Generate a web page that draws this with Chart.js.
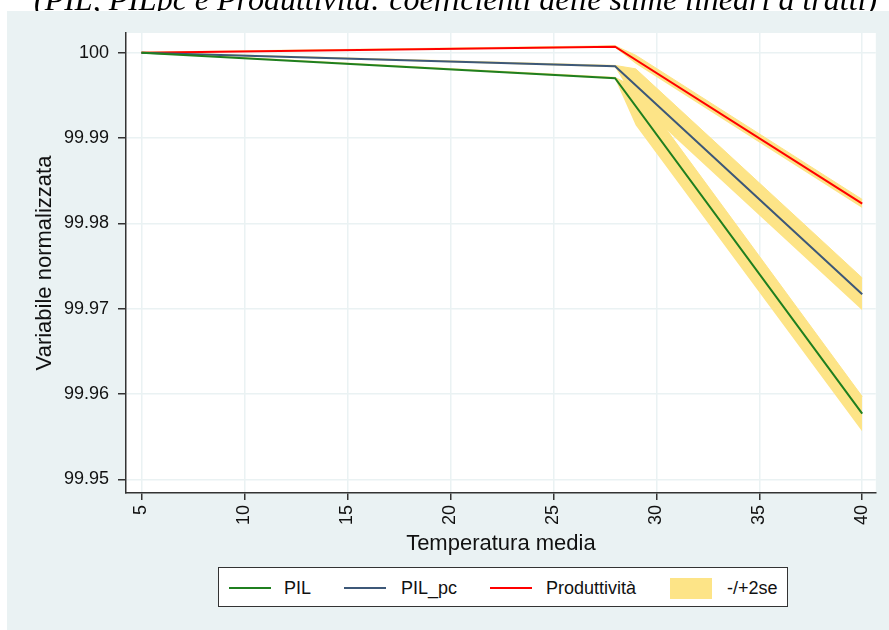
<!DOCTYPE html>
<html lang="it">
<head>
<meta charset="utf-8">
<title>Variabile normalizzata</title>
<script src="https://cdn.jsdelivr.net/npm/chart.js@4.4.1/dist/chart.umd.min.js"></script>
<style>
  html, body { margin: 0; padding: 0; background: #fff; }
  #wrap { position: relative; width: 889px; height: 630px; overflow: hidden; }
  #chart { position: absolute; left: 0; top: 0; }
  #title { position: absolute; left: 0; top: 0; width: 889px; height: 11px; overflow: hidden; z-index: 2; }
  #title span { position: absolute; left: 34px; top: -19px; line-height: 32px; font: italic 32px "Liberation Serif", serif; white-space: nowrap; color: #000; }
  #legend { position: absolute; left: 218px; top: 567px; width: 568px; height: 38px; background: #fff; border: 1px solid #333; z-index: 2;
            font: 18px "Liberation Sans", Arial, sans-serif; color: #111; }
  #legend .ln { position: absolute; top: 19px; width: 42px; height: 2px; }
  #legend .box { position: absolute; top: 10px; width: 42px; height: 21px; background: rgb(253, 228, 135); }
  #legend .lbl { position: absolute; top: 0; line-height: 40px; white-space: nowrap; }
</style>
</head>
<body>
<div id="wrap">
  <canvas id="chart" width="889" height="630"></canvas>
  <div id="title"><span>(PIL, PILpc e Produttività: coefficienti delle stime lineari a tratti)</span></div>
  <div id="legend">
    <span class="ln" style="left:10px; background:#1f7f1f"></span><span class="lbl" style="left:65px">PIL</span>
    <span class="ln" style="left:125px; background:#3d5878"></span><span class="lbl" style="left:182px">PIL_pc</span>
    <span class="ln" style="left:271px; background:#ff0000"></span><span class="lbl" style="left:327px">Produttività</span>
    <span class="box" style="left:451px"></span><span class="lbl" style="left:508px">-/+2se</span>
  </div>
</div>
<script>
// temperature points where the fitted lines change slope
const lineTemps = [5, 28, 40];
const pil = [100, 99.9970, 99.9577];
const pilPc = [100, 99.9984, 99.9717];
const produttivita = [100, 100.0007, 99.9823];

// confidence bands (-/+2se)
const bandTemps = [5, 28, 29, 40];
const pilLow = [99.99995, 99.9969, 99.9915, 99.9556];
const pilHigh = [100.00005, 99.9971, 99.9959, 99.9597];
const pilPcLow = [99.99995, 99.9983, 99.9943, 99.9698];
const pilPcHigh = [100.00005, 99.9985, 99.9981, 99.9736];
const prodLow = [99.99995, 100.0006, 99.9987, 99.9818];
const prodHigh = [100.00005, 100.0008, 99.9997, 99.9828];

const xTicks = [5, 10, 15, 20, 25, 30, 35, 40];
const yTicks = [99.95, 99.96, 99.97, 99.98, 99.99, 100];
const yTickLabels = ['99.95', '99.96', '99.97', '99.98', '99.99', '100'];

const bandColor = 'rgb(253, 228, 135)';
const gridColor = '#eaf2f3';
const axisColor = '#333';

function toPts(xs, ys) {
    return xs.map((x, i) => ({ x: x, y: ys[i] }));
}

function bandPair(low, high) {
    return [
        { data: toPts(bandTemps, low), borderWidth: 0, pointRadius: 0, fill: false, order: 1 },
        { data: toPts(bandTemps, high), borderWidth: 1, borderColor: bandColor, backgroundColor: bandColor,
          pointRadius: 0, fill: '-1', order: 1 }
    ];
}

function lineSet(label, ys, color) {
    return { label: label, data: toPts(lineTemps, ys), borderColor: color, borderWidth: 2,
             pointRadius: 0, fill: false, tension: 0, order: 0 };
}

const background = {
    id: 'background',
    beforeDraw(chart) {
        const { ctx, chartArea: a } = chart;
        ctx.save();
        ctx.fillStyle = '#fff';
        ctx.fillRect(0, 0, chart.width, chart.height);
        ctx.fillStyle = gridColor;
        ctx.fillRect(7, 11, chart.width - 7, chart.height - 11);
        ctx.fillStyle = '#fff';
        ctx.fillRect(a.left, a.top, a.right - a.left, a.bottom - a.top);
        ctx.restore();
    }
};

const tickFont = { family: '"Liberation Sans", Arial, sans-serif', size: 18 };
const titleFont = { family: '"Liberation Sans", Arial, sans-serif', size: 22 };

function initChart() {
    const ctx = document.getElementById('chart').getContext('2d');
    new Chart(ctx, {
        type: 'line',
        data: {
            datasets: [
                ...bandPair(pilLow, pilHigh),
                ...bandPair(pilPcLow, pilPcHigh),
                ...bandPair(prodLow, prodHigh),
                lineSet('PIL', pil, '#1f7f1f'),
                lineSet('PIL_pc', pilPc, '#3d5878'),
                lineSet('Produttività', produttivita, '#ff0000')
            ]
        },
        options: {
            responsive: false,
            animation: false,
            layout: { padding: { top: 33, right: 10, bottom: 0, left: 0 } },
            plugins: { legend: { display: false }, tooltip: { enabled: false } },
            scales: {
                x: {
                    type: 'linear',
                    min: 4.25,
                    max: 40.66,
                    afterBuildTicks: s => { s.ticks = xTicks.map(v => ({ value: v })); },
                    afterFit: s => { s.height = 137; },
                    grid: { color: gridColor, lineWidth: 1.5, tickColor: axisColor, tickLength: 7 },
                    border: { color: axisColor, width: 1.5 },
                    ticks: { minRotation: 90, maxRotation: 90, padding: 5, color: '#111', font: tickFont,
                             callback: v => String(v) },
                    title: { display: true, text: 'Temperatura media', color: '#111', font: titleFont,
                             padding: { top: 0, bottom: 73 } }
                },
                y: {
                    min: 99.9484,
                    max: 100.0023,
                    afterBuildTicks: s => { s.ticks = yTicks.map(v => ({ value: v })); },
                    afterFit: s => { s.width = 126; },
                    grid: { color: gridColor, lineWidth: 1.5, tickColor: axisColor, tickLength: 8 },
                    border: { color: axisColor, width: 1.5 },
                    ticks: { padding: 9, color: '#111', font: tickFont,
                             callback: (v, i) => yTickLabels[i] },
                    title: { display: true, text: 'Variabile normalizzata', color: '#111', font: titleFont,
                             padding: { top: 32, bottom: 0 } }
                }
            }
        },
        plugins: [background]
    });
}

document.addEventListener('DOMContentLoaded', () => {
    initChart();
});
</script>
</body>
</html>
